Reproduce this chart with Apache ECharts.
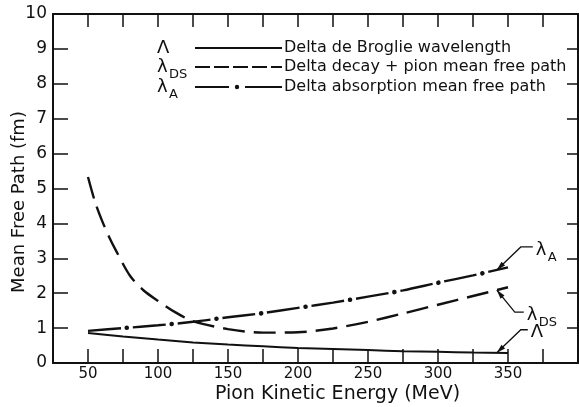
<!DOCTYPE html>
<html>
<head>
<meta charset="utf-8">
<script src="https://cdn.jsdelivr.net/npm/echarts@6/dist/echarts.min.js"></script>
<style>
  html, body { margin: 0; padding: 0; background: #ffffff; }
  #chart { width: 579px; height: 407px; }
</style>
</head>
<body>
<div id="chart"></div>
<script>
// Delta de Broglie wavelength (fm) vs pion kinetic energy (MeV)
const energyLambda = [50, 75, 100, 125, 150, 175, 200, 225, 250, 275, 300, 325, 350];
const broglieWavelength = [0.86, 0.76, 0.67, 0.59, 0.53, 0.48, 0.43, 0.40, 0.37, 0.34, 0.32, 0.30, 0.29];

// Delta decay + pion mean free path (fm)
const energyDS = [50, 55, 60, 65, 70, 80, 90, 100, 112.5, 125, 150, 175, 200, 225, 250, 275, 300, 325, 350];
const decayPionPath = [5.33, 4.62, 4.08, 3.62, 3.22, 2.50, 2.07, 1.78, 1.45, 1.20, 0.97, 0.87, 0.88, 0.99, 1.18, 1.42, 1.67, 1.92, 2.17];

// Delta absorption mean free path (fm)
const energyA = [50, 75, 100, 125, 150, 175, 200, 225, 250, 275, 300, 325, 350];
const absorptionPath = [0.92, 1.00, 1.08, 1.18, 1.31, 1.43, 1.58, 1.73, 1.90, 2.08, 2.30, 2.51, 2.74];

// Labelled ticks
const xTickLabels = [50, 100, 150, 200, 250, 300, 350];
const yTickLabels = [0, 1, 2, 3, 4, 5, 6, 7, 8, 9, 10];

// Energy where the curve callouts point
const calloutEnergy = 342;

const INK = '#111111';
const FONT = 'DejaVu Sans';

const pairs = (xs, ys) => xs.map((x, i) => [x, ys[i]]);

// Dash patterns (px along the path)
const DASH_DS = [22, 9];
const DASH_A_PERIOD = 45;
const DASH_A_LONG = 33;

const chart = echarts.init(document.getElementById('chart'));

function xAxisDef(position, tickLen, extra) {
  return Object.assign({
    type: 'value', min: 25, max: 400, interval: 25, position: position,
    axisLine: { show: true, onZero: false, lineStyle: { color: INK, width: 2 } },
    axisTick: { show: true, inside: true, length: tickLen, lineStyle: { color: INK, width: 1.5 } },
    splitLine: { show: false }
  }, extra);
}
function yAxisDef(position, tickLen, extra) {
  return Object.assign({
    type: 'value', min: 0, max: 10, interval: 1, position: position,
    axisLine: { show: true, onZero: false, lineStyle: { color: INK, width: 2 } },
    axisTick: { show: true, inside: true, length: tickLen, lineStyle: { color: INK, width: 1.5 } },
    splitLine: { show: false }
  }, extra);
}

chart.setOption({
  animation: false,
  backgroundColor: '#ffffff',
  grid: { left: 53, right: 1, top: 14, bottom: 44, outerBoundsMode: 'none', containLabel: false },
  xAxis: [
    xAxisDef('bottom', 14, {
      axisLabel: {
        margin: 4, fontSize: 15, color: INK, fontFamily: FONT,
        formatter: v => (xTickLabels.indexOf(v) >= 0 ? String(v) : '')
      },
      name: 'Pion Kinetic Energy (MeV)',
      nameLocation: 'middle',
      nameGap: 22,
      nameMoveOverlap: false,
      nameTextStyle: { fontSize: 19, color: INK, fontFamily: FONT, padding: [0, 0, 0, 44] }
    }),
    xAxisDef('top', 13, { axisLabel: { show: false } })
  ],
  yAxis: [
    yAxisDef('left', 15, {
      axisLabel: {
        margin: 6, fontSize: 17, color: INK, fontFamily: FONT,
        formatter: v => (yTickLabels.indexOf(v) >= 0 ? String(v) : '')
      },
      name: 'Mean Free Path (fm)',
      nameLocation: 'middle',
      nameGap: 25,
      nameMoveOverlap: false,
      nameTextStyle: { fontSize: 18, color: INK, fontFamily: FONT, padding: [0, 27, 0, 0] }
    }),
    yAxisDef('right', 11, { axisLabel: { show: false } })
  ],
  series: [
    {
      name: 'Delta de Broglie wavelength',
      type: 'line', smooth: 0.3, symbol: 'none', silent: true,
      data: pairs(energyLambda, broglieWavelength),
      lineStyle: { color: INK, width: 2 }
    },
    {
      name: 'Delta decay + pion mean free path',
      type: 'line', smooth: 0.3, symbol: 'none', silent: true,
      data: pairs(energyDS, decayPionPath),
      lineStyle: { color: INK, width: 2.4, type: DASH_DS }
    },
    {
      // long dashes of the dash-dot curve
      name: 'Delta absorption mean free path',
      type: 'line', smooth: 0.3, symbol: 'none', silent: true,
      data: pairs(energyA, absorptionPath),
      lineStyle: { color: INK, width: 2.4, type: [DASH_A_LONG, DASH_A_PERIOD - DASH_A_LONG], dashOffset: 0 }
    },
    {
      // dots of the dash-dot curve, centred in each gap
      name: 'Delta absorption mean free path',
      type: 'line', smooth: 0.3, symbol: 'none', silent: true,
      data: pairs(energyA, absorptionPath),
      lineStyle: {
        color: INK, width: 4.6, cap: 'round',
        type: [0.01, DASH_A_PERIOD - 0.01],
        dashOffset: DASH_A_PERIOD - (DASH_A_LONG + (DASH_A_PERIOD - DASH_A_LONG) / 2)
      }
    }
  ]
});

// Linear lookup of a curve value at a given energy
function valueAt(xs, ys, e) {
  for (let i = 0; i < xs.length - 1; i++) {
    if (e >= xs[i] && e <= xs[i + 1]) {
      const t = (e - xs[i]) / (xs[i + 1] - xs[i]);
      return ys[i] + t * (ys[i + 1] - ys[i]);
    }
  }
  return ys[ys.length - 1];
}

function arrowHead(tip, from, len, half) {
  const dx = tip[0] - from[0], dy = tip[1] - from[1];
  const d = Math.hypot(dx, dy) || 1;
  const ux = dx / d, uy = dy / d;
  const bx = tip[0] - ux * len, by = tip[1] - uy * len;
  return {
    type: 'polygon', silent: true,
    shape: { points: [tip, [bx - uy * half, by + ux * half], [bx + uy * half, by - ux * half]] },
    style: { fill: INK }
  };
}

function symbolText(x, y, main, sub, size) {
  const els = [{
    type: 'text', silent: true, x: x, y: y,
    style: { text: main, font: size + 'px "' + FONT + '"', fill: INK, textVerticalAlign: 'middle', textAlign: 'left' }
  }];
  if (sub) {
    els.push({
      type: 'text', silent: true, x: x + 12, y: y + 8,
      style: { text: sub, font: '13px "' + FONT + '"', fill: INK, textVerticalAlign: 'middle', textAlign: 'left' }
    });
  }
  return els;
}

function callout(tip, elbow, end, main, sub) {
  const els = [
    {
      type: 'polyline', silent: true,
      shape: { points: [tip, elbow, end] },
      style: { stroke: INK, lineWidth: 1.3, fill: null }
    },
    arrowHead(tip, elbow, 9, 2.6)
  ];
  return els.concat(symbolText(end[0] + 3, end[1] + 3, main, sub, 18));
}

function legendRow(y, kind, label, main, sub) {
  const els = symbolText(157, y, main, sub, 18);
  if (kind === 'dashdot') {
    els.push({ type: 'line', silent: true, shape: { x1: 195, y1: y, x2: 229, y2: y }, style: { stroke: INK, lineWidth: 2 } });
    els.push({ type: 'circle', silent: true, shape: { cx: 237, cy: y, r: 2.2 }, style: { fill: INK } });
    els.push({ type: 'line', silent: true, shape: { x1: 245, y1: y, x2: 282, y2: y }, style: { stroke: INK, lineWidth: 2 } });
  } else {
    els.push({
      type: 'line', silent: true,
      shape: { x1: 195, y1: y, x2: 282, y2: y },
      style: { stroke: INK, lineWidth: 2, lineDash: kind === 'dash' ? [15, 4] : null }
    });
  }
  els.push({
    type: 'text', silent: true, x: 284, y: y,
    style: { text: label, font: '16px "' + FONT + '"', fill: INK, textVerticalAlign: 'middle', textAlign: 'left' }
  });
  return els;
}

const px = (e, v) => chart.convertToPixel({ xAxisIndex: 0, yAxisIndex: 0 }, [e, v]);

const tipA = px(calloutEnergy, valueAt(energyA, absorptionPath, calloutEnergy));
const tipDS = px(calloutEnergy, valueAt(energyDS, decayPionPath, calloutEnergy));
const tipL = px(calloutEnergy, valueAt(energyLambda, broglieWavelength, calloutEnergy));

const graphics = []
  .concat(legendRow(48, 'solid', 'Delta de Broglie wavelength', 'Λ', null))
  .concat(legendRow(67, 'dash', 'Delta decay + pion mean free path', 'λ', 'DS'))
  .concat(legendRow(87, 'dashdot', 'Delta absorption mean free path', 'λ', 'A'))
  .concat(callout(tipA, [tipA[0] + 24, tipA[1] - 23], [tipA[0] + 36, tipA[1] - 23], 'λ', 'A'))
  .concat(callout(tipDS, [tipDS[0] + 18, tipDS[1] + 22], [tipDS[0] + 27, tipDS[1] + 22], 'λ', 'DS'))
  .concat(callout(tipL, [tipL[0] + 24, tipL[1] - 23], [tipL[0] + 31, tipL[1] - 23], 'Λ', null));

chart.setOption({ graphic: { elements: graphics } });
</script>
</body>
</html>
